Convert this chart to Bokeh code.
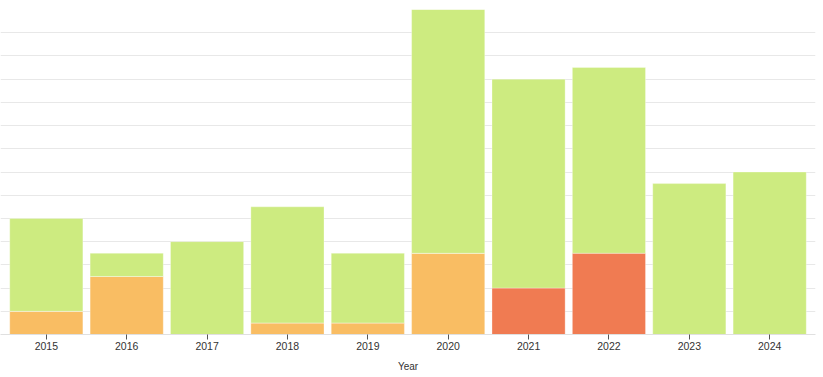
from bokeh.plotting import figure
from bokeh.models import FactorRange, Range1d, SingleIntervalTicker, ColumnDataSource
from bokeh.embed import file_html
from bokeh.resources import INLINE

years = ["2015", "2016", "2017", "2018", "2019", "2020", "2021", "2022", "2023", "2024"]
orange = [2, 5, 0, 1, 1, 7, 0, 0, 0, 0]
red = [0, 0, 0, 0, 0, 0, 4, 7, 0, 0]
green = [8, 2, 8, 10, 6, 21, 18, 16, 13, 14]

series = ["orange", "red", "green"]
colors = ["#f9bd63", "#f07b52", "#cdeb80"]

source = ColumnDataSource(dict(year=years, orange=orange, red=red, green=green))

p = figure(
    width=823, height=377,
    x_range=FactorRange(factors=years, range_padding=0.07, range_padding_units="absolute"),
    y_range=Range1d(0, 28),
    output_backend="svg", toolbar_location=None,
    min_border_left=0, min_border_right=8, min_border_top=9, min_border_bottom=43,
)
p.outline_line_color = None

p.vbar_stack(series, x="year", width=0.91, color=colors, source=source,
             line_color="white", line_alpha=0.3, line_width=1)

p.yaxis.visible = False
p.yaxis.ticker = SingleIntervalTicker(interval=2)
p.ygrid.grid_line_color = "#e8e8e8"
p.ygrid.grid_line_width = 1
p.xgrid.grid_line_color = None

ax = p.xaxis[0]
ax.axis_label = "Year"
ax.axis_label_text_font = "Liberation Sans"
ax.axis_label_text_font_style = "normal"
ax.axis_label_text_font_size = "10px"
ax.axis_label_text_color = "#333333"
ax.axis_label_standoff = 8
ax.major_label_text_font = "Liberation Sans"
ax.major_label_text_font_size = "10.5px"
ax.major_label_text_color = "#333333"
ax.major_label_standoff = 2
ax.axis_line_color = "#e0e0e0"
ax.major_tick_line_color = "#555555"
ax.major_tick_out = 5
ax.major_tick_in = 0
ax.minor_tick_line_color = None

open("out.html", "w").write(file_html(p, INLINE))
